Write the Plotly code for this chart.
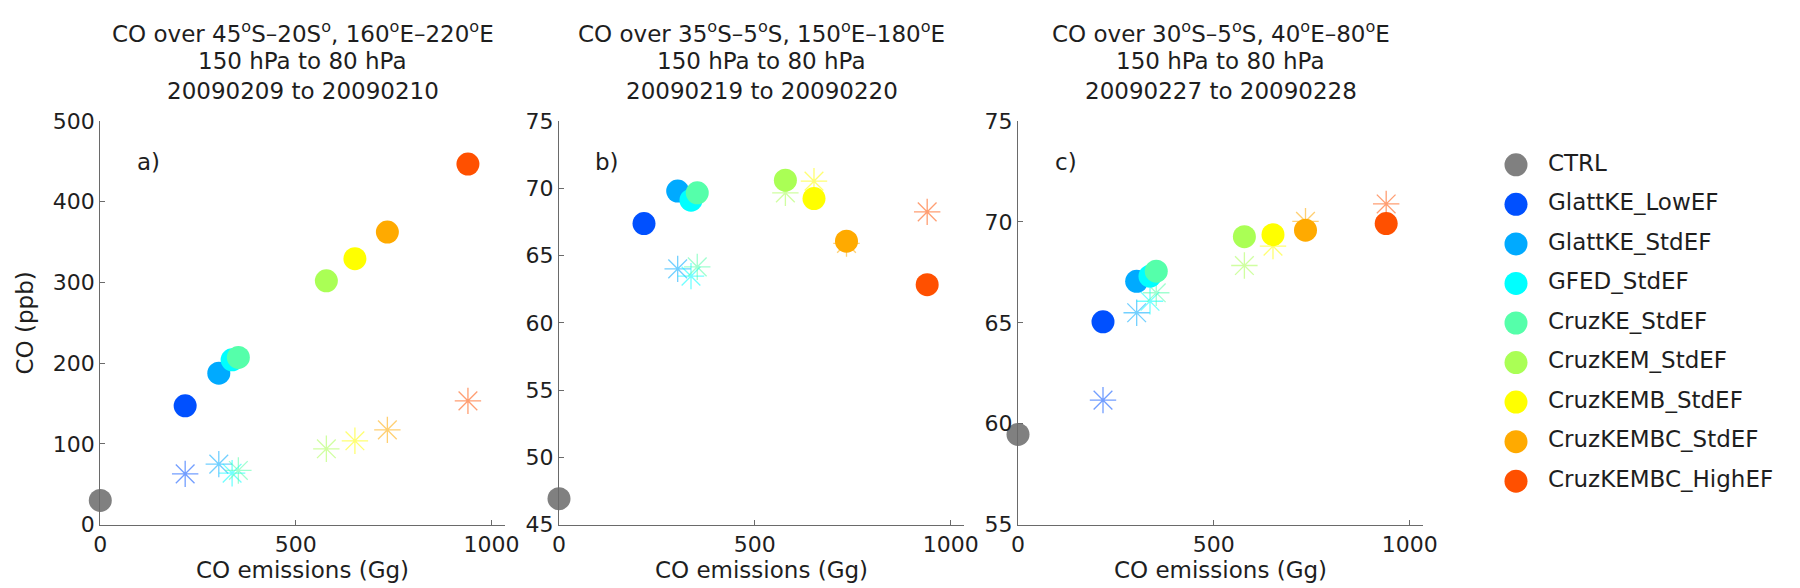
import plotly.graph_objects as go

# ---------------- data ----------------
categories = ["CTRL", "GlattKE_LowEF", "GlattKE_StdEF", "GFED_StdEF", "CruzKE_StdEF",
              "CruzKEM_StdEF", "CruzKEMB_StdEF", "CruzKEMBC_StdEF", "CruzKEMBC_HighEF"]
colors = ["#808080", "#0050FF", "#00AAFF", "#00FFFF", "#55FFAA",
          "#AAFF55", "#FFFF00", "#FFAA00", "#FF5000"]

emissions = [0, 217, 303, 337, 353, 578, 651, 734, 940]

co_a = [30.0, 147.2, 187.7, 204.2, 207.2, 302.1, 329.4, 362.5, 446.7]
star_a = [None, 63.0, 75.0, 63.8, 67.2, 94.0, 103.9, 117.5, 153.4]

co_b = [46.93, 67.38, 69.79, 69.12, 69.66, 70.60, 69.24, 66.07, 62.84]
star_b = [None, None, 64.01, 63.47, 64.16, 69.66, 70.53, 65.90, 68.25]

co_c = [59.47, 65.05, 67.06, 67.31, 67.56, 69.27, 69.37, 69.59, 69.92]
star_c = [None, 61.17, 65.50, 66.07, 66.49, 67.84, 68.80, 70.03, 70.89]

titles = [
    "CO over 45<sup>o</sup>S\u201320S<sup>o</sup>, 160<sup>o</sup>E\u2013220<sup>o</sup>E",
    "CO over 35<sup>o</sup>S\u20135<sup>o</sup>S, 150<sup>o</sup>E\u2013180<sup>o</sup>E",
    "CO over 30<sup>o</sup>S\u20135<sup>o</sup>S, 40<sup>o</sup>E\u201380<sup>o</sup>E",
]
level_text = "150 hPa to 80 hPa"
dates = ["20090209 to 20090210", "20090219 to 20090220", "20090227 to 20090228"]
panel_labels = ["a)", "b)", "c)"]
y_ranges = [[0, 500], [45, 75], [55, 75]]
y_ticks = [[0, 100, 200, 300, 400, 500], [45, 50, 55, 60, 65, 70, 75], [55, 60, 65, 70, 75]]
x_ticks = [0, 500, 1000]
x_range = [0, 1034]
x_title = "CO emissions (Gg)"
y_title = "CO (ppb)"

# ---------------- layout geometry (pixels) ----------------
W, H = 1800, 588
FONT = "DejaVu Sans, Verdana, sans-serif"
TXT = "#1e1e1e"
AX = "#6a6a6a"
x_px = [(92.3, 496.7), (551, 956), (1010, 1415)]
y_top_px, y_bot_px = 113, 516.7

fig = go.Figure()

panels = [(co_a, star_a), (co_b, star_b), (co_c, star_c)]
for p, (co, st) in enumerate(panels):
    xa = "x" if p == 0 else f"x{p+1}"
    ya = "y" if p == 0 else f"y{p+1}"
    for i, cat in enumerate(categories):
        if st[i] is None:
            continue
        fig.add_trace(go.Scatter(
            x=[emissions[i]], y=[st[i]], mode="markers", xaxis=xa, yaxis=ya,
            marker=dict(symbol="asterisk-open", size=22, color=colors[i],
                        line=dict(color=colors[i], width=1.3)),
            opacity=0.55, showlegend=False, cliponaxis=False, hoverinfo="skip"))
    for i, cat in enumerate(categories):
        fig.add_trace(go.Scatter(
            x=[emissions[i]], y=[co[i]], mode="markers", xaxis=xa, yaxis=ya,
            name=cat, showlegend=False,
            marker=dict(symbol="circle", size=23, color=colors[i], line=dict(width=0)),
            cliponaxis=False))

# manual legend (own hidden axes): one circle + label per category
legend_rows = list(range(len(categories)))
fig.add_trace(go.Scatter(
    x=[18] * len(categories), y=legend_rows, mode="markers", xaxis="x4", yaxis="y4",
    marker=dict(symbol="circle", size=23, color=colors, line=dict(width=0)),
    showlegend=False, cliponaxis=False, hoverinfo="skip"))
fig.add_trace(go.Scatter(
    x=[50] * len(categories), y=legend_rows, mode="text", xaxis="x4", yaxis="y4",
    text=categories, textposition="middle right",
    textfont=dict(family=FONT, size=23, color=TXT),
    showlegend=False, cliponaxis=False, hoverinfo="skip"))

axis_common = dict(showgrid=False, zeroline=False, showline=True, linecolor=AX,
                   linewidth=1.3, ticks="inside", ticklen=5, tickcolor=AX, tickwidth=1,
                   automargin=False,
                   tickfont=dict(family=FONT, size=22, color=TXT))
ydom = [1 - y_bot_px / H, 1 - y_top_px / H]
layout = dict(width=W, height=H, plot_bgcolor="white", paper_bgcolor="white",
              margin=dict(l=0, r=0, t=0, b=0), showlegend=False,
              font=dict(family=FONT, size=22, color=TXT))
annotations = []
for p in range(3):
    xk = "xaxis" if p == 0 else f"xaxis{p+1}"
    yk = "yaxis" if p == 0 else f"yaxis{p+1}"
    x0, x1 = x_px[p]
    layout[xk] = dict(axis_common, domain=[x0 / W, x1 / W], range=x_range,
                      tickvals=x_ticks, anchor="y" if p == 0 else f"y{p+1}",
                      title=dict(text=x_title, font=dict(family=FONT, size=23, color=TXT),
                                 standoff=4))
    layout[yk] = dict(axis_common, domain=ydom, range=y_ranges[p],
                      tickvals=y_ticks[p], anchor="x" if p == 0 else f"x{p+1}")
    if p == 0:
        layout[yk]["title"] = dict(text=y_title, font=dict(family=FONT, size=23, color=TXT),
                                   standoff=12)
    cx = (x0 + x1) / 2 / W
    for txt, ypx in [(titles[p], 24), (level_text, 53), (dates[p], 83)]:
        annotations.append(dict(text=txt, x=cx, y=1 - ypx / H, xref="paper", yref="paper",
                                xanchor="center", yanchor="middle", showarrow=False,
                                font=dict(family=FONT, size=23, color=TXT)))
    annotations.append(dict(text=panel_labels[p], x=0.118, y=0.898,
                            xref=("x domain" if p == 0 else f"x{p+1} domain"),
                            yref=("y domain" if p == 0 else f"y{p+1} domain"),
                            xanchor="center", yanchor="middle", showarrow=False,
                            font=dict(family=FONT, size=23, color=TXT)))
layout["annotations"] = annotations
layout["xaxis4"] = dict(domain=[1490 / W, 1.0], range=[0, 310], visible=False,
                        anchor="y4", fixedrange=True)
layout["yaxis4"] = dict(domain=[1 - 493 / H, 1 - 137 / H], range=[8.5, -0.5],
                        visible=False, anchor="x4", fixedrange=True)
fig.update_layout(**layout)

fig.write_html("out.html")
